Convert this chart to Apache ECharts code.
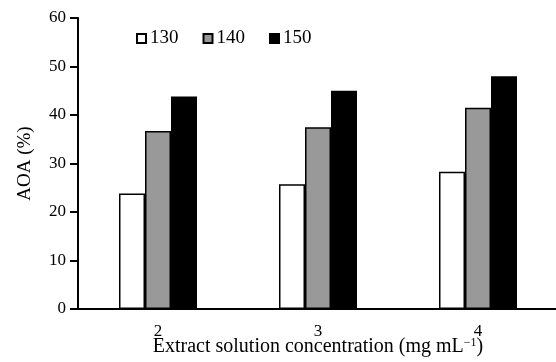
<!DOCTYPE html>
<html>
<head>
<meta charset="utf-8">
<script src="https://cdn.jsdelivr.net/npm/echarts@6/dist/echarts.min.js"></script>
<style>
html,body{margin:0;padding:0;background:#fff;}
#chart{width:556px;height:362px;}
</style>
</head>
<body>
<div id="chart"></div>
<script>
const categories = ['2', '3', '4'];
const seriesNames = ['130', '140', '150'];
const values130 = [23.8, 25.7, 28.3];
const values140 = [36.7, 37.5, 41.5];
const values150 = [43.8, 45.0, 48.0];
const fills = ['#ffffff', '#999999', '#000000'];
const yTicks = { min: 0, max: 60, interval: 10 };

const font = '"Liberation Serif", "DejaVu Serif", serif';
const chart = echarts.init(document.getElementById('chart'), null, { renderer: 'canvas' });
const allValues = [values130, values140, values150];

chart.setOption({
  animation: false,
  backgroundColor: '#ffffff',
  textStyle: { fontFamily: font },
  grid: { left: 78, top: 18, width: 480, height: 291, containLabel: false, outerBoundsMode: 'none' },
  legend: {
    top: 24,
    left: 131,
    itemGap: 24,
    itemWidth: 9,
    itemHeight: 9,
    icon: 'rect',
    textStyle: { fontFamily: font, fontSize: 19, color: '#000', padding: [0, 0, 0, -1] },
    data: seriesNames
  },
  xAxis: {
    type: 'category',
    data: categories,
    axisLine: { lineStyle: { color: '#000', width: 2 } },
    axisTick: { show: false },
    axisLabel: { color: '#000', fontSize: 17, fontFamily: font, margin: 14 },
    name: '{t|Extract solution concentration (mg mL}{s|−1}{t|)}',
    nameLocation: 'middle',
    nameGap: 28,
    nameMoveOverlap: false,
    nameTextStyle: {
      verticalAlign: 'top',
      rich: {
        t: { fontFamily: font, fontSize: 20, color: '#000' },
        s: { fontFamily: font, fontSize: 12, color: '#000', verticalAlign: 'top', padding: [0, 0, 8, 0] }
      }
    }
  },
  yAxis: {
    type: 'value',
    min: yTicks.min,
    max: yTicks.max,
    interval: yTicks.interval,
    splitLine: { show: false },
    axisLine: { show: true, lineStyle: { color: '#000', width: 2 } },
    axisTick: { show: true, inside: false, length: 8, lineStyle: { color: '#000', width: 2 } },
    axisLabel: { color: '#000', fontSize: 17, fontFamily: font, margin: 12 },
    name: 'AOA (%)',
    nameLocation: 'middle',
    nameGap: 43,
    nameRotate: 90,
    nameMoveOverlap: false,
    nameTextStyle: { fontFamily: font, fontSize: 19, color: '#000' }
  },
  series: seriesNames.map((n, i) => ({
    name: n,
    type: 'bar',
    data: allValues[i],
    barWidth: 26,
    barGap: '0%',
    itemStyle: { color: fills[i], borderColor: '#000', borderWidth: 1.5 }
  }))
});
</script>
</body>
</html>
